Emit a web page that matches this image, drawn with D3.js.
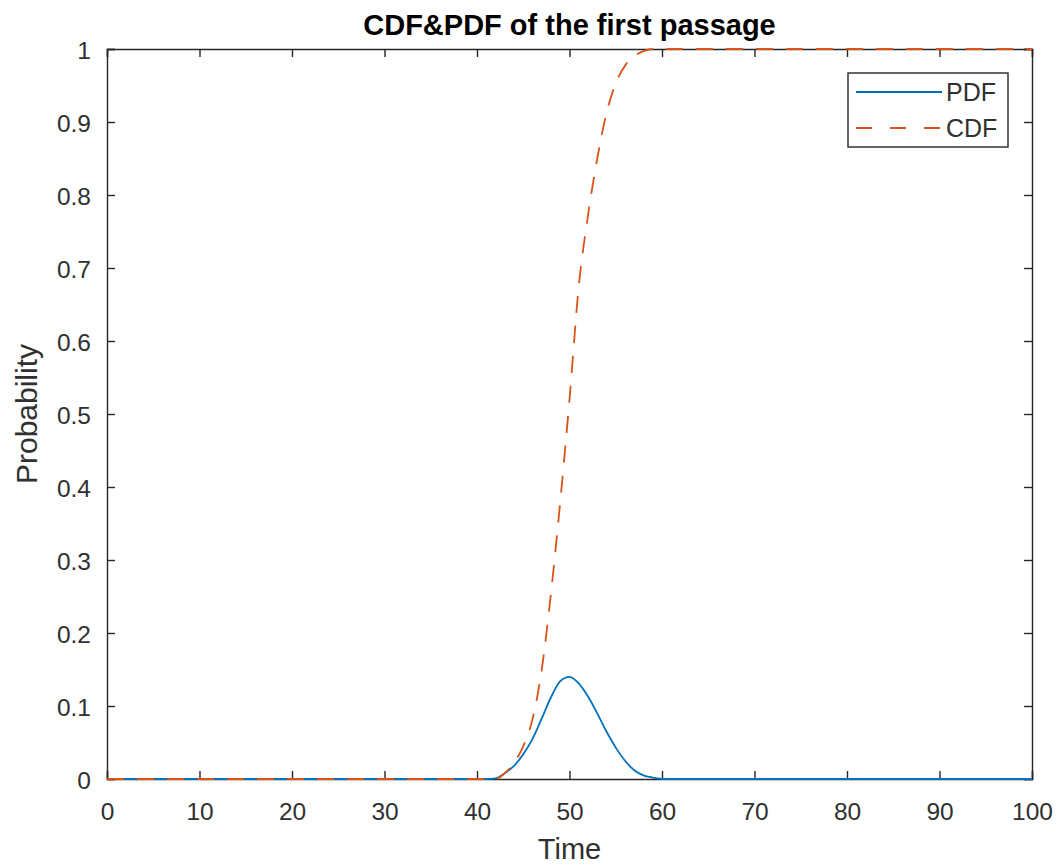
<!DOCTYPE html>
<html>
<head>
<meta charset="utf-8">
<script src="https://cdn.jsdelivr.net/npm/d3@7"></script>
<style>
  html, body { margin: 0; padding: 0; background: #fff; }
  svg { display: block; font-family: "Liberation Sans", Arial, Helvetica, sans-serif; }
</style>
</head>
<body>
<svg id="chart" width="1057" height="867"></svg>
<script>
// ---- data ----
const titleText = "CDF&PDF of the first passage";
const xLabelText = "Time";
const yLabelText = "Probability";
const seriesNames = ["PDF", "CDF"];
const xTicks = [0, 10, 20, 30, 40, 50, 60, 70, 80, 90, 100];
const yTicks = [0, 0.1, 0.2, 0.3, 0.4, 0.5, 0.6, 0.7, 0.8, 0.9, 1];

const time = [0, 10, 20, 30, 40, 41, 42, 43, 44, 45, 46, 47, 48, 49, 50, 51, 52, 53, 54, 55, 56, 57, 58, 59, 60, 61, 62, 70, 80, 90, 100];
const pdfValues = [0, 0, 0, 0, 0, 0, 0.001, 0.008, 0.018, 0.034, 0.055, 0.083, 0.112, 0.134, 0.140, 0.131, 0.113, 0.090, 0.065, 0.043, 0.025, 0.012, 0.005, 0.002, 0, 0, 0, 0, 0, 0, 0];
const cdfValues = [0, 0, 0, 0, 0, 0, 0, 0.008, 0.022, 0.045, 0.082, 0.150, 0.255, 0.380, 0.520, 0.675, 0.772, 0.850, 0.912, 0.953, 0.977, 0.990, 0.997, 1, 1, 1, 1, 1, 1, 1, 1];

(function () {
// ---- layout ----
const svg = d3.select("#chart");
const mL = 107, mR = 1032, mT = 49, mB = 779;
const axisColor = "#262626";
const textColor = "#303030";
const colors = ["#0072BD", "#D95319"];
const dash = "17,13";

const x = d3.scaleLinear().domain([0, 100]).range([mL, mR]);
const y = d3.scaleLinear().domain([0, 1]).range([mB, mT]);

svg.append("rect").attr("x", mL).attr("y", mT).attr("width", mR - mL).attr("height", mB - mT).attr("fill", "#fff");

const tickLen = 8;
const g = svg.append("g");

const xAxisB = d3.axisBottom(x).tickValues(xTicks).tickSize(-tickLen).tickPadding(24).tickFormat(d3.format("d"));
const gxb = g.append("g").attr("transform", `translate(0,${mB})`).call(xAxisB);
const xAxisT = d3.axisTop(x).tickValues(xTicks).tickSize(-tickLen).tickFormat("");
const gxt = g.append("g").attr("transform", `translate(0,${mT})`).call(xAxisT);
const yAxisL = d3.axisLeft(y).tickValues(yTicks).tickSize(-tickLen).tickPadding(16).tickFormat(d => d === 0 ? "0" : (d === 1 ? "1" : d3.format(".1f")(d)));
const gyl = g.append("g").attr("transform", `translate(${mL},0)`).call(yAxisL);
const yAxisR = d3.axisRight(y).tickValues(yTicks).tickSize(-tickLen).tickFormat("");
const gyr = g.append("g").attr("transform", `translate(${mR},0)`).call(yAxisR);

[gxb, gxt, gyl, gyr].forEach(a => {
  a.select(".domain").attr("stroke", axisColor).attr("stroke-width", 1.4);
  a.selectAll(".tick line").attr("stroke", axisColor).attr("stroke-width", 1.4);
  a.selectAll(".tick text").attr("fill", textColor).style("font-size", "24.5px").style("font-family", "'Liberation Sans', Arial, sans-serif");
});
gxb.selectAll(".tick text").attr("dy", "0.71em");
gyl.selectAll(".tick text").attr("dy", "0.4em");

// ---- lines ----
const lineGen = d3.line().x((d, i) => x(time[i])).y(d => y(d)).curve(d3.curveMonotoneX);
svg.append("path").datum(pdfValues)
  .attr("d", lineGen).attr("fill", "none").attr("stroke", colors[0]).attr("stroke-width", 1.8);
svg.append("path").datum(cdfValues)
  .attr("d", lineGen).attr("fill", "none").attr("stroke", colors[1]).attr("stroke-width", 1.8)
  .attr("stroke-dasharray", dash);

// ---- title and labels ----
svg.append("text").attr("x", (mL + mR) / 2).attr("y", 35)
  .attr("text-anchor", "middle").attr("font-weight", "bold").attr("font-size", 29).attr("fill", "#000")
  .text(titleText);
svg.append("text").attr("x", (mL + mR) / 2).attr("y", 859)
  .attr("text-anchor", "middle").attr("font-size", 29).attr("fill", textColor)
  .text(xLabelText);
svg.append("text").attr("transform", `translate(37,${(mT + mB) / 2}) rotate(-90)`)
  .attr("text-anchor", "middle").attr("font-size", 30).attr("fill", textColor)
  .text(yLabelText);

// ---- legend ----
const lg = svg.append("g");
lg.append("rect").attr("x", 848).attr("y", 73).attr("width", 160).attr("height", 74)
  .attr("fill", "#fff").attr("stroke", axisColor).attr("stroke-width", 1.4);
seriesNames.forEach((name, i) => {
  const yy = 92 + i * 36;
  lg.append("line").attr("x1", 856).attr("x2", 942).attr("y1", yy).attr("y2", yy)
    .attr("stroke", colors[i]).attr("stroke-width", 1.8)
    .attr("stroke-dasharray", i === 1 ? "16,18" : null);
  lg.append("text").attr("x", 946).attr("y", yy).attr("dy", "0.36em")
    .attr("font-size", 25).attr("fill", textColor).text(name);
});
})();
</script>
</body>
</html>
